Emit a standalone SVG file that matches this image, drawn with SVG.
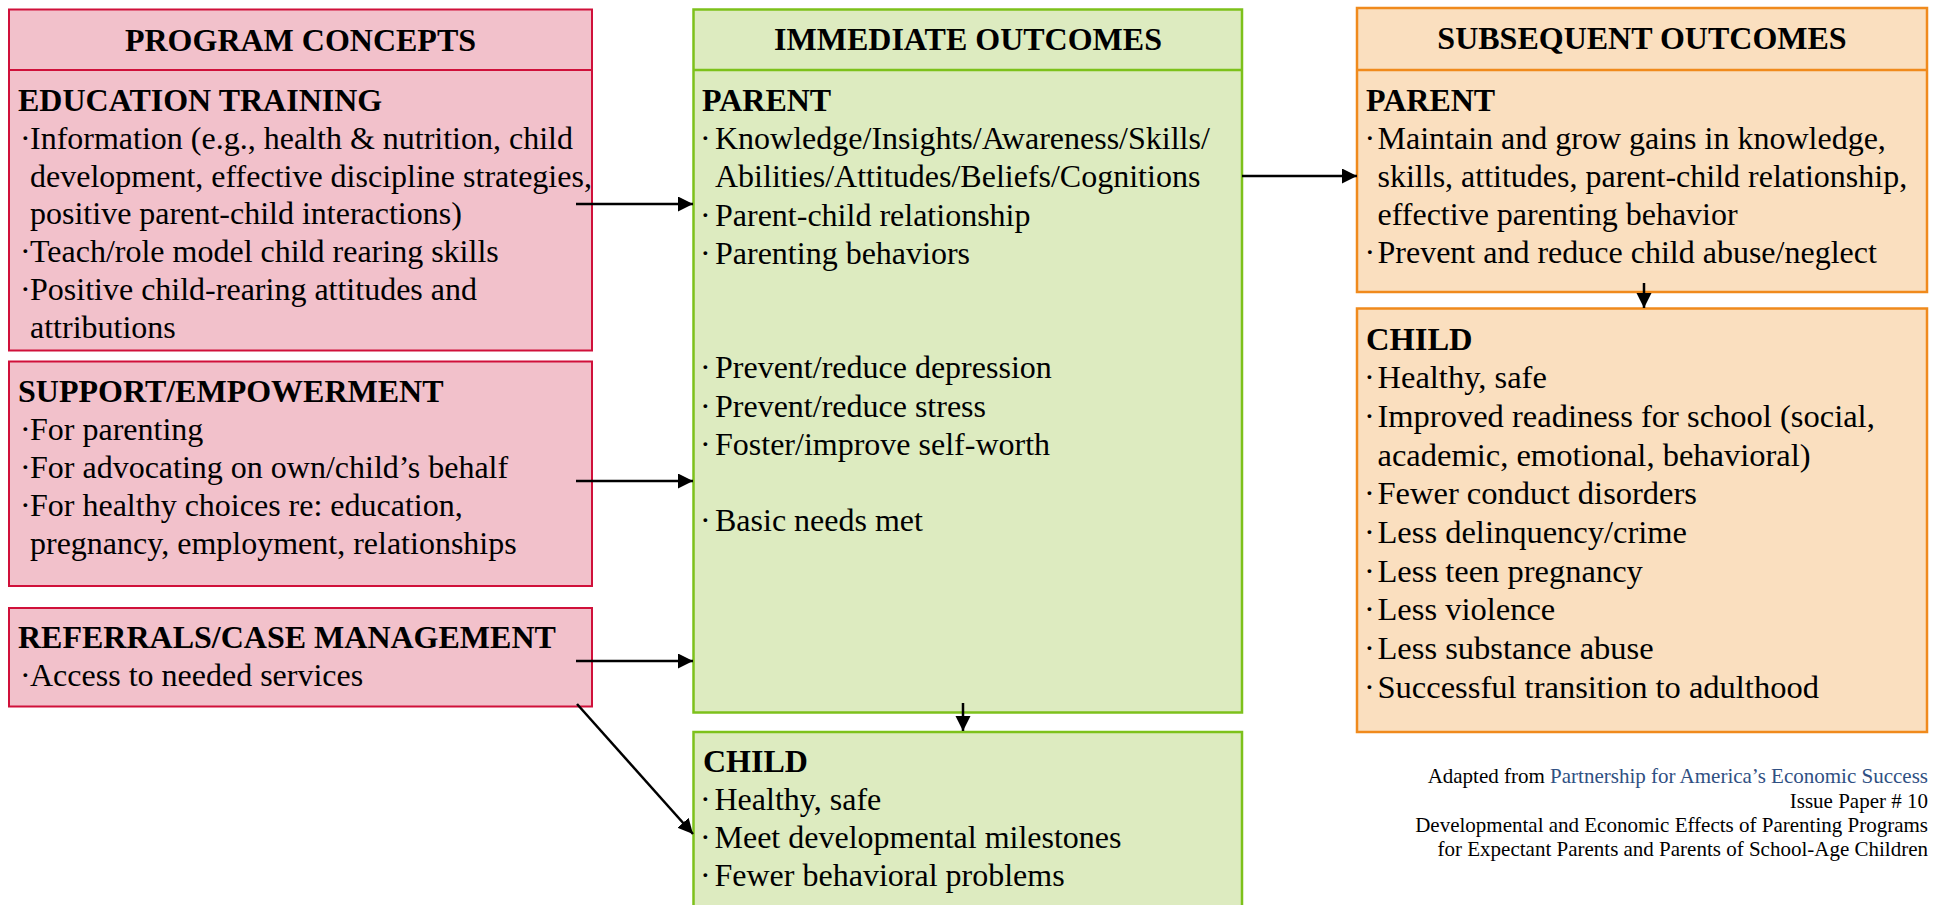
<svg xmlns="http://www.w3.org/2000/svg" width="1933" height="905" viewBox="0 0 1933 905">
  <style>
    .pink { fill: #F2C1CB; stroke: #D0103A; stroke-width: 2; }
    .green { fill: #DDEBC0; stroke: #7DC11B; stroke-width: 2.5; }
    .orange { fill: #FADFBF; stroke: #F08A1C; stroke-width: 2.5; }
    .div-pink { stroke: #D0103A; stroke-width: 2; }
    .div-green { stroke: #7DC11B; stroke-width: 2.5; }
    .div-orange { stroke: #F08A1C; stroke-width: 2.5; }
    text { font-family: "Liberation Serif", "Times New Roman", serif; font-size: 32px; fill: #000; }
    .b { font-weight: bold; }
    .mid { text-anchor: middle; }
    .big { font-size: 32.5px; }
    .note { font-size: 21px; text-anchor: end; }
    .link { fill: #2F5083; }
    .conn { stroke: #000; stroke-width: 2.5; fill: none; marker-end: url(#arrow); }
  </style>
  <defs>
    <marker id="arrow" markerUnits="userSpaceOnUse" markerWidth="16" markerHeight="16" refX="15" refY="7.5" orient="auto">
      <path d="M0,0 L15,7.5 L0,15 z" fill="#000"/>
    </marker>
  </defs>

  <rect width="1933" height="905" fill="#fff"/>

  <!-- Program concepts column -->
  <g id="education-training">
    <rect class="pink" x="9" y="9.5" width="583" height="341"/>
    <line class="div-pink" x1="9" y1="70" x2="592" y2="70"/>
    <text class="b mid" x="300.5" y="51">PROGRAM CONCEPTS</text>
    <text class="b" x="18" y="111">EDUCATION TRAINING</text>
    <text><tspan x="20" y="148.8">·</tspan><tspan x="30">Information (e.g., health &amp; nutrition, child</tspan></text>
    <text x="30" y="186.6">development, effective discipline strategies,</text>
    <text x="30" y="224.4">positive parent-child interactions)</text>
    <text><tspan x="20" y="262.2">·</tspan><tspan x="30">Teach/role model child rearing skills</tspan></text>
    <text><tspan x="20" y="300">·</tspan><tspan x="30">Positive child-rearing attitudes and</tspan></text>
    <text x="30" y="337.8">attributions</text>
  </g>

  <g id="support-empowerment">
    <rect class="pink" x="9" y="361.5" width="583" height="224.5"/>
    <text class="b" x="18" y="401.5">SUPPORT/EMPOWERMENT</text>
    <text><tspan x="20" y="439.5">·</tspan><tspan x="30">For parenting</tspan></text>
    <text><tspan x="20" y="477.5">·</tspan><tspan x="30">For advocating on own/child’s behalf</tspan></text>
    <text><tspan x="20" y="515.5">·</tspan><tspan x="30">For healthy choices re: education,</tspan></text>
    <text x="30" y="553.5">pregnancy, employment, relationships</text>
  </g>

  <g id="referrals-case-management">
    <rect class="pink" x="9" y="608" width="583" height="98.5"/>
    <text class="b" x="18" y="647.5">REFERRALS/CASE MANAGEMENT</text>
    <text><tspan x="20" y="686">·</tspan><tspan x="30">Access to needed services</tspan></text>
  </g>

  <!-- Immediate outcomes column -->
  <g id="immediate-parent">
    <rect class="green" x="693.5" y="9.5" width="548.5" height="703"/>
    <line class="div-green" x1="693.5" y1="70" x2="1242" y2="70"/>
    <text class="b mid" x="968" y="50">IMMEDIATE OUTCOMES</text>
    <text class="b" x="702" y="111">PARENT</text>
    <text><tspan x="700" y="149.2">·</tspan><tspan x="715">Knowledge/Insights/Awareness/Skills/</tspan></text>
    <text x="715" y="187.4">Abilities/Attitudes/Beliefs/Cognitions</text>
    <text><tspan x="700" y="225.6">·</tspan><tspan x="715">Parent-child relationship</tspan></text>
    <text><tspan x="700" y="263.8">·</tspan><tspan x="715">Parenting behaviors</tspan></text>
    <text><tspan x="700" y="378.4">·</tspan><tspan x="715">Prevent/reduce depression</tspan></text>
    <text><tspan x="700" y="416.6">·</tspan><tspan x="715">Prevent/reduce stress</tspan></text>
    <text><tspan x="700" y="454.8">·</tspan><tspan x="715">Foster/improve self-worth</tspan></text>
    <text><tspan x="700" y="531.2">·</tspan><tspan x="715">Basic needs met</tspan></text>
  </g>

  <g id="immediate-child">
    <rect class="green" x="693.5" y="732" width="548.5" height="200"/>
    <text class="b" x="703" y="772">CHILD</text>
    <text><tspan x="700" y="810">·</tspan><tspan x="714.5">Healthy, safe</tspan></text>
    <text><tspan x="700" y="848">·</tspan><tspan x="714.5">Meet developmental milestones</tspan></text>
    <text><tspan x="700" y="886">·</tspan><tspan x="714.5">Fewer behavioral problems</tspan></text>
  </g>

  <!-- Subsequent outcomes column -->
  <g id="subsequent-parent">
    <rect class="orange" x="1357" y="8" width="570" height="284"/>
    <line class="div-orange" x1="1357" y1="70" x2="1927" y2="70"/>
    <text class="b mid" x="1642" y="48.5">SUBSEQUENT OUTCOMES</text>
    <text class="b" x="1366" y="111">PARENT</text>
    <text><tspan x="1364.5" y="149">·</tspan><tspan x="1377.5">Maintain and grow gains in knowledge,</tspan></text>
    <text x="1377.5" y="187">skills, attitudes, parent-child relationship,</text>
    <text x="1377.5" y="225">effective parenting behavior</text>
    <text><tspan x="1364.5" y="263">·</tspan><tspan x="1377.5">Prevent and reduce child abuse/neglect</tspan></text>
  </g>

  <g id="subsequent-child">
    <rect class="orange" x="1357" y="308.5" width="570" height="423.5"/>
    <text class="b big" x="1366" y="349.5">CHILD</text>
    <text class="big"><tspan x="1364" y="388.2">·</tspan><tspan x="1377.5">Healthy, safe</tspan></text>
    <text class="big"><tspan x="1364" y="426.9">·</tspan><tspan x="1377.5">Improved readiness for school (social,</tspan></text>
    <text class="big" x="1377.5" y="465.6">academic, emotional, behavioral)</text>
    <text class="big"><tspan x="1364" y="504.3">·</tspan><tspan x="1377.5">Fewer conduct disorders</tspan></text>
    <text class="big"><tspan x="1364" y="543">·</tspan><tspan x="1377.5">Less delinquency/crime</tspan></text>
    <text class="big"><tspan x="1364" y="581.7">·</tspan><tspan x="1377.5">Less teen pregnancy</tspan></text>
    <text class="big"><tspan x="1364" y="620.4">·</tspan><tspan x="1377.5">Less violence</tspan></text>
    <text class="big"><tspan x="1364" y="659.1">·</tspan><tspan x="1377.5">Less substance abuse</tspan></text>
    <text class="big"><tspan x="1364" y="697.8">·</tspan><tspan x="1377.5">Successful transition to adulthood</tspan></text>
  </g>

  <!-- Source note -->
  <g id="source-note">
    <text class="note" x="1928" y="783">Adapted from <tspan class="link">Partnership for America’s Economic Success</tspan></text>
    <text class="note" x="1928" y="808">Issue Paper # 10</text>
    <text class="note" x="1928" y="832">Developmental and Economic Effects of Parenting Programs</text>
    <text class="note" x="1928" y="856">for Expectant Parents and Parents of School-Age Children</text>
  </g>

  <!-- Connectors -->
  <g id="connectors">
    <line class="conn" x1="576" y1="204" x2="693" y2="204"/>
    <line class="conn" x1="576" y1="481" x2="693" y2="481"/>
    <line class="conn" x1="576" y1="661" x2="693" y2="661"/>
    <line class="conn" x1="577" y1="704" x2="693" y2="834"/>
    <line class="conn" x1="963" y1="703" x2="963" y2="731"/>
    <line class="conn" x1="1242" y1="176" x2="1357" y2="176"/>
    <line class="conn" x1="1644" y1="283" x2="1644" y2="308"/>
  </g>
</svg>
